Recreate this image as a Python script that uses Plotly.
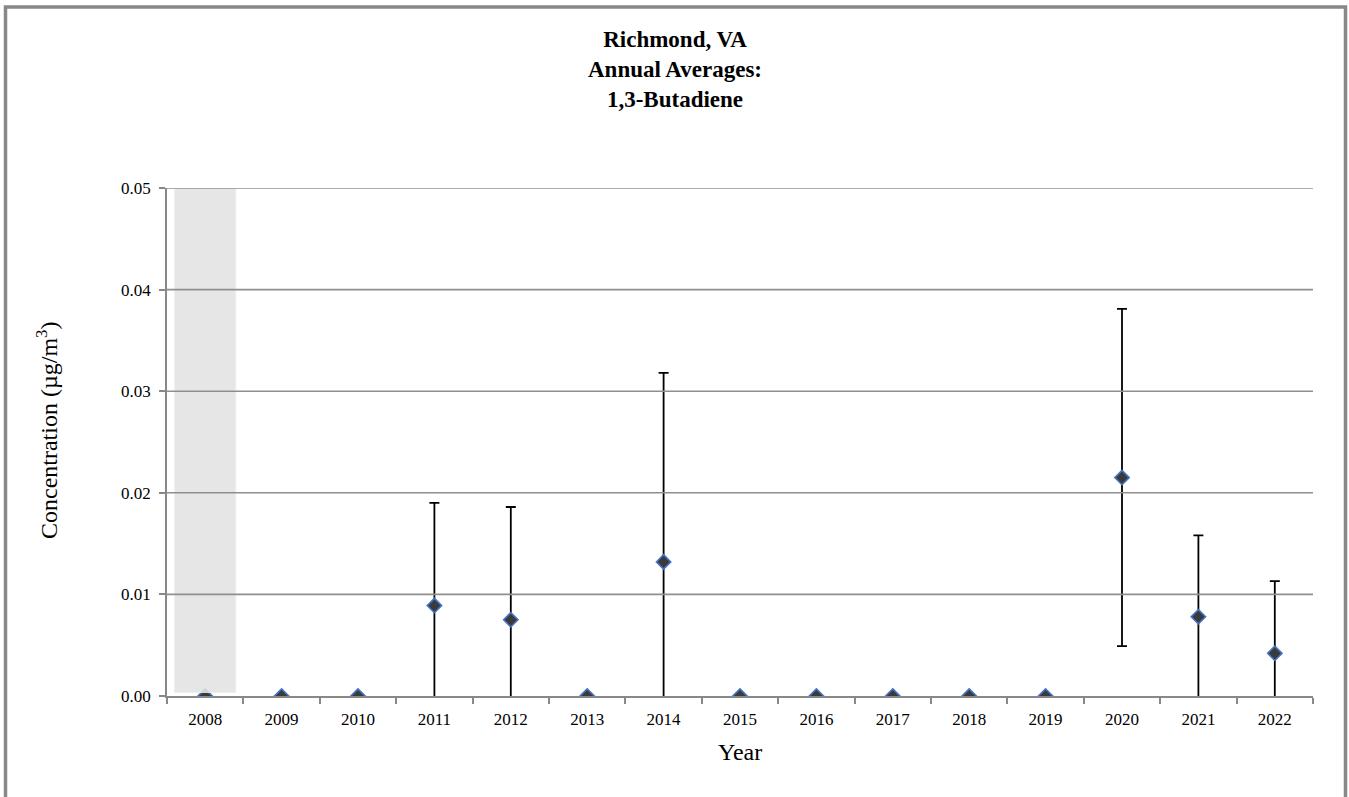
import plotly.graph_objects as go

# Annual averages of 1,3-butadiene, Richmond VA (ug/m3)
years = ["2008", "2009", "2010", "2011", "2012", "2013", "2014", "2015",
         "2016", "2017", "2018", "2019", "2020", "2021", "2022"]
means = [0.0, 0.0, 0.0, 0.0089, 0.0075, 0.0, 0.0132, 0.0,
         0.0, 0.0, 0.0, 0.0, 0.0215, 0.0078, 0.0042]
upper = [None, None, None, 0.0190, 0.0186, None, 0.0318, None,
         None, None, None, None, 0.0381, 0.0158, 0.0113]
lower = [None, None, None, 0.0, 0.0, None, 0.0, None,
         None, None, None, None, 0.0049, 0.0, 0.0]
y_ticks = [0.0, 0.01, 0.02, 0.03, 0.04, 0.05]
shaded_years = ["2008"]

W, H = 1349, 797
ML, MR, MT, MB = 167, 36, 188, 101
FONT = "Liberation Serif, Times New Roman, serif"
pw, ph = W - ML - MR, H - MT - MB
fx = lambda px: (px - ML) / pw
fy = lambda py: 1 - (py - MT) / ph

# Upper whiskers, plus lower whiskers that end above zero, get caps
up_len = [None if u is None else u - m for u, m in zip(upper, means)]
low_capped = [None if (lo is None or lo <= 0) else m - lo for lo, m in zip(lower, means)]
# Lower whiskers that run down to the axis are drawn without caps
low_open = [None if (lo is None or lo > 0) else m - lo for lo, m in zip(lower, means)]

fig = go.Figure()
fig.add_trace(go.Scatter(
    x=years, y=means, mode="markers",
    marker=dict(size=1, color="rgba(0,0,0,0)"),
    error_y=dict(type="data", symmetric=False, array=up_len, arrayminus=low_capped,
                 color="black", thickness=1.8, width=5),
    hoverinfo="skip", showlegend=False))
fig.add_trace(go.Scatter(
    x=years, y=means, mode="markers",
    marker=dict(size=1, color="rgba(0,0,0,0)"),
    error_y=dict(type="data", symmetric=False, array=[None] * len(years),
                 arrayminus=low_open, color="black", thickness=1.8, width=0),
    hoverinfo="skip", showlegend=False))
fig.add_trace(go.Scatter(
    x=years, y=means, mode="markers",
    marker=dict(symbol="diamond", size=11, color="#3a3a3a",
                line=dict(color="#4472C4", width=1.6)),
    showlegend=False))

shapes = []
# Shaded band for years without a full record
for yr in shaded_years:
    i = years.index(yr)
    shapes.append(dict(type="rect", xref="x", yref="y", x0=i - 0.4, x1=i + 0.4,
                       y0=0.00035, y1=y_ticks[-1], layer="above",
                       fillcolor="#e3e3e3", opacity=0.88,
                       line=dict(color="#efeee4", width=1)))
# Horizontal gridlines, drawn on top of the shaded band
for t in y_ticks[1:]:
    shapes.append(dict(type="line", xref="paper", yref="y", x0=0, x1=1, y0=t, y1=t,
                       layer="above", line=dict(color="#8f8f8f", width=1.6)))
# Outer chart frame
shapes.append(dict(type="rect", xref="paper", yref="paper",
                   x0=fx(5.5), x1=fx(1345.5), y0=fy(H + 20), y1=fy(7),
                   line=dict(color="#888888", width=3.5), fillcolor="rgba(0,0,0,0)",
                   layer="above"))

annotations = [
    dict(text="<b>Richmond, VA<br>Annual Averages:<br>1,3-Butadiene</b>",
         xref="paper", yref="paper", x=fx(W / 2), y=fy(70),
         xanchor="center", yanchor="middle", showarrow=False,
         font=dict(family=FONT, size=23, color="black")),
    dict(text="Year", xref="paper", yref="paper", x=0.5, y=fy(752),
         xanchor="center", yanchor="middle", showarrow=False,
         font=dict(family=FONT, size=24, color="black")),
    dict(text="Concentration (µg/m<sup>3</sup>)", textangle=-90,
         xref="paper", yref="paper", x=fx(47), y=fy(430),
         xanchor="center", yanchor="middle", showarrow=False,
         font=dict(family=FONT, size=24, color="black")),
]

fig.update_layout(
    width=W, height=H,
    margin=dict(l=ML, r=MR, t=MT, b=MB),
    paper_bgcolor="white", plot_bgcolor="white",
    font=dict(family=FONT, color="black"),
    shapes=shapes, annotations=annotations,
    xaxis=dict(type="category", range=[-0.5, len(years) - 0.5],
               showline=True, linecolor="#888888", linewidth=1.6,
               ticks="outside", tickson="boundaries", ticklen=6,
               tickcolor="#888888", tickwidth=1.6, showgrid=False,
               ticklabelstandoff=7,
               tickfont=dict(family=FONT, size=17)),
    yaxis=dict(range=[0, y_ticks[-1]], tickvals=y_ticks, tickformat=".2f",
               showline=True, linecolor="#888888", linewidth=1.6,
               ticks="outside", ticklen=6, tickcolor="#888888", tickwidth=1.6,
               showgrid=False, zeroline=False, ticklabelstandoff=5,
               tickfont=dict(family=FONT, size=17)),
)

fig.write_html("out.html")
